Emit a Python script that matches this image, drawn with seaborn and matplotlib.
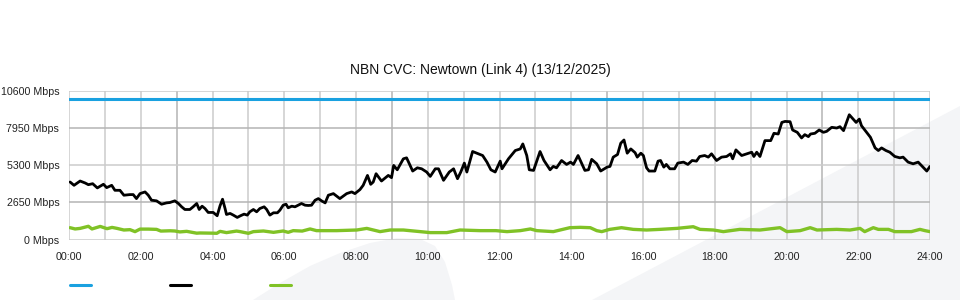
import matplotlib
matplotlib.use("Agg")
import matplotlib.pyplot as plt
from matplotlib.patches import Polygon
from matplotlib.lines import Line2D
import seaborn as sns
import pandas as pd

# ---------------- data ----------------
title = "NBN CVC: Newtown (Link 4) (13/12/2025)"

capacity_hours = [0.0, 24.0]
capacity_mbps = [10000, 10000]

traffic_hours = [
    0.03, 0.14, 0.31, 0.45, 0.54, 0.66, 0.79, 0.96, 1.05, 1.19, 1.28, 1.42, 1.53, 1.70, 1.79, 1.88,
    1.98, 2.12, 2.21, 2.30, 2.44, 2.58, 2.72, 2.81, 2.95, 3.05, 3.14, 3.23, 3.37, 3.46, 3.56, 3.63,
    3.71, 3.79, 3.88, 4.02, 4.13, 4.21, 4.28, 4.35, 4.39, 4.49, 4.58, 4.69, 4.78, 4.88, 4.97, 5.04,
    5.14, 5.23, 5.32, 5.44, 5.51, 5.60, 5.70, 5.81, 5.88, 5.97, 6.05, 6.11, 6.21, 6.30, 6.39, 6.48,
    6.58, 6.67, 6.76, 6.86, 6.95, 7.04, 7.14, 7.23, 7.37, 7.55, 7.74, 7.88, 7.97, 8.11, 8.20, 8.32,
    8.41, 8.48, 8.56, 8.71, 8.90, 8.99, 9.05, 9.15, 9.32, 9.41, 9.58, 9.71, 9.83, 9.97, 10.07, 10.21,
    10.30, 10.44, 10.60, 10.72, 10.83, 10.92, 11.02, 11.09, 11.25, 11.37, 11.53, 11.65, 11.76, 11.88,
    12.02, 12.07, 12.25, 12.44, 12.58, 12.65, 12.76, 12.83, 12.95, 13.13, 13.24, 13.41, 13.50, 13.59,
    13.73, 13.87, 13.98, 14.06, 14.19, 14.38, 14.48, 14.57, 14.71, 14.82, 15.00, 15.08, 15.17, 15.29,
    15.38, 15.47, 15.56, 15.66, 15.78, 15.84, 15.94, 16.01, 16.10, 16.17, 16.33, 16.42, 16.49, 16.58,
    16.65, 16.75, 16.88, 16.97, 17.13, 17.25, 17.37, 17.49, 17.58, 17.72, 17.82, 17.91, 18.05, 18.19,
    18.33, 18.44, 18.50, 18.59, 18.75, 18.89, 19.03, 19.09, 19.17, 19.26, 19.40, 19.56, 19.65, 19.77,
    19.87, 19.96, 20.10, 20.17, 20.30, 20.42, 20.51, 20.61, 20.67, 20.79, 20.91, 21.03, 21.12, 21.26,
    21.40, 21.49, 21.59, 21.75, 21.86, 21.94, 22.03, 22.09, 22.21, 22.34, 22.47, 22.56, 22.65, 22.77,
    22.88, 23.02, 23.16, 23.25, 23.39, 23.53, 23.67, 23.76, 23.91, 24.00,
]
traffic_mbps = [
    4090, 3855, 4160, 4020, 3900, 3970, 3670, 3930, 3690, 3855, 3500, 3500, 3150, 3195, 3195, 2910,
    3265, 3385, 3150, 2795, 2750, 2510, 2605, 2630, 2750, 2560, 2325, 2135, 2135, 2325, 2560, 2135,
    2370, 2205, 1925, 1925, 1690, 2395, 2865, 2205, 1780, 1855, 1735, 1570, 1690, 1805, 1735, 1970,
    2135, 1970, 2205, 2325, 2135, 1735, 1900, 1900, 2090, 2440, 2510, 2255, 2370, 2325, 2440, 2560,
    2440, 2420, 2440, 2795, 2910, 2750, 2605, 3150, 3265, 2910, 3265, 3385, 3265, 3550, 3855, 4560,
    3925, 4090, 4680, 4160, 4560, 4400, 5270, 4960, 5740, 5810, 4870, 5100, 5030, 4800, 4490, 5030,
    5030, 4210, 4800, 5030, 4325, 4800, 5435, 4800, 6260, 6140, 5975, 5505, 4960, 4800,
    5575, 5030, 5740, 6330, 6445, 6800, 5975, 4960, 4915, 6260, 5620, 4960, 5200, 5100,
    5620, 5340, 5505, 5340, 5975, 4915, 4960, 5700, 5385, 4870, 5150, 5200, 5860, 6045,
    6850, 7080, 6140, 6445, 6175, 5860, 6140, 5975, 5100, 4870, 4870, 5575, 5620, 5150,
    5340, 5030, 5030, 5435, 5505, 5340, 5620, 5575, 5905, 5975, 5860, 6095, 5620, 5860,
    5905, 6095, 5740, 6375, 5975, 6095, 6210, 5905, 6210, 5905, 7035, 7035, 7555, 7505,
    8330, 8400, 8380, 7790, 7625, 7225, 7460, 7320, 7505, 7555, 7790, 7625, 7695, 7980,
    7930, 8025, 7745, 8875, 8565, 8330, 8565, 8095, 7695, 7270, 6515, 6330, 6515, 6330,
    6210, 5905, 5810, 5860, 5505, 5385, 5505, 5270, 4870, 5200,
]

other_hours = [
    0.03, 0.17, 0.31, 0.54, 0.64, 0.87, 1.06, 1.20, 1.34, 1.53, 1.70, 1.84, 1.98, 2.21, 2.44, 2.56,
    2.82, 2.95, 3.09, 3.28, 3.56, 3.65, 4.02, 4.12, 4.21, 4.39, 4.67, 4.77, 5.00, 5.14, 5.42, 5.70,
    5.97, 6.11, 6.25, 6.50, 6.72, 6.90, 7.23, 7.46, 8.02, 8.30, 8.67, 8.95, 9.32, 9.79, 10.07, 10.53,
    10.90, 11.46, 11.90, 12.21, 12.58, 12.86, 13.04, 13.50, 13.96, 14.25, 14.53, 14.71, 14.85, 15.07,
    15.40, 15.73, 16.10, 16.47, 16.94, 17.40, 17.59, 17.96, 18.24, 18.70, 19.26, 19.82, 20.01, 20.38,
    20.66, 20.85, 21.40, 21.77, 22.05, 22.18, 22.42, 22.56, 22.84, 23.02, 23.48, 23.72, 23.86, 24.00,
]
other_mbps = [
    840, 750, 790, 940, 750, 930, 770, 860, 790, 675, 700, 560, 740, 740, 720, 600,
    620, 605, 540, 580, 450, 465, 450, 440, 580, 490, 600, 560, 440, 560, 605, 510,
    605, 510, 630, 600, 750, 630, 630, 630, 675, 790, 560, 675, 675, 560, 490, 490,
    675, 630, 630, 560, 630, 750, 630, 560, 840, 865, 840, 630, 560, 720,
    840, 720, 675, 720, 790, 910, 720, 675, 560, 720, 675, 840, 560, 630,
    840, 675, 720, 675, 790, 560, 840, 720, 720, 560, 560, 720, 630, 560,
]

y_ticks = [0, 2650, 5300, 7950, 10600]
y_tick_labels = ["0 Mbps", "2650 Mbps", "5300 Mbps", "7950 Mbps", "10600 Mbps"]
x_ticks = list(range(0, 25))
x_tick_labels = [f"{h:02d}:00" if h % 2 == 0 else "" for h in x_ticks]

# ---------------- style ----------------
sns.set_theme(style="white")
plt.rcParams["font.family"] = ["Liberation Sans", "DejaVu Sans"]

BLUE = "#1aa1e0"
BLACK = "#000000"
GREEN = "#80c226"
WM = "#f4f5f7"

W, H = 960, 300
fig = plt.figure(figsize=(9.6, 3.0), dpi=100)
fig.patch.set_facecolor("white")


def fx(px):
    return px / W


def fy(py):
    return 1 - py / H


# background watermark shapes
diag = Polygon([(fx(592), fy(300)), (fx(960), fy(106)), (fx(960), fy(300))],
               closed=True, transform=fig.transFigure, facecolor=WM, edgecolor="none", zorder=-5)
dome = Polygon([(fx(253), fy(300)), (fx(280), fy(283)), (fx(310), fy(266)), (fx(340), fy(253)),
                (fx(370), fy(243)), (fx(397), fy(238)), (fx(420), fy(239)), (fx(435), fy(246)),
                (fx(445), fy(262)), (fx(452), fy(285)), (fx(455), fy(300))],
               closed=True, transform=fig.transFigure, facecolor=WM, edgecolor="none", zorder=-5)
fig.patches.extend([diag, dome])

ax = fig.add_axes([fx(69), fy(239.5), (930 - 69) / W, (239.5 - 90.5) / H])
ax.set_facecolor("none")
ax.set_zorder(1)

# grid
for h in x_ticks:
    c = "#b4b4b4" if h % 6 == 3 else "#cbcbcb"
    ax.axvline(h, color=c, lw=1.1, zorder=1)
for i, v in enumerate(y_ticks):
    c = "#b4b4b4" if v in (2650, 7950) else "#cbcbcb"
    ax.axhline(v, color=c, lw=1.1, zorder=1)

df_cap = pd.DataFrame({"hour": capacity_hours, "mbps": capacity_mbps})
df_tr = pd.DataFrame({"hour": traffic_hours, "mbps": traffic_mbps})
df_ot = pd.DataFrame({"hour": other_hours, "mbps": other_mbps})

sns.lineplot(data=df_cap, x="hour", y="mbps", ax=ax, color=BLUE, lw=2.2, zorder=3)
sns.lineplot(data=df_ot, x="hour", y="mbps", ax=ax, color=GREEN, lw=2.4, zorder=3)
sns.lineplot(data=df_tr, x="hour", y="mbps", ax=ax, color=BLACK, lw=2.0, zorder=4)

ax.set_xlim(0, 24)
ax.set_ylim(0, 10600)
ax.set_xticks(x_ticks)
ax.set_xticklabels(x_tick_labels)
ax.set_yticks(y_ticks)
ax.set_yticklabels(y_tick_labels)
ax.tick_params(axis="both", length=0, labelsize=7.7, colors="#222222")
ax.tick_params(axis="y", pad=7)
ax.tick_params(axis="x", pad=9)
ax.set_xlabel("")
ax.set_ylabel("")
for s in ax.spines.values():
    s.set_visible(False)

fig.text(0.5, fy(70), title, ha="center", va="center", fontsize=10, color="#111111")

# legend swatches (labels are blank in the reference)
for x0, col in [(70, BLUE), (170, BLACK), (270, GREEN)]:
    fig.add_artist(Line2D([fx(x0), fx(x0 + 21)], [fy(285), fy(285)],
                          transform=fig.transFigure, color=col, lw=2.2))

fig.savefig("out.png", dpi=100)
